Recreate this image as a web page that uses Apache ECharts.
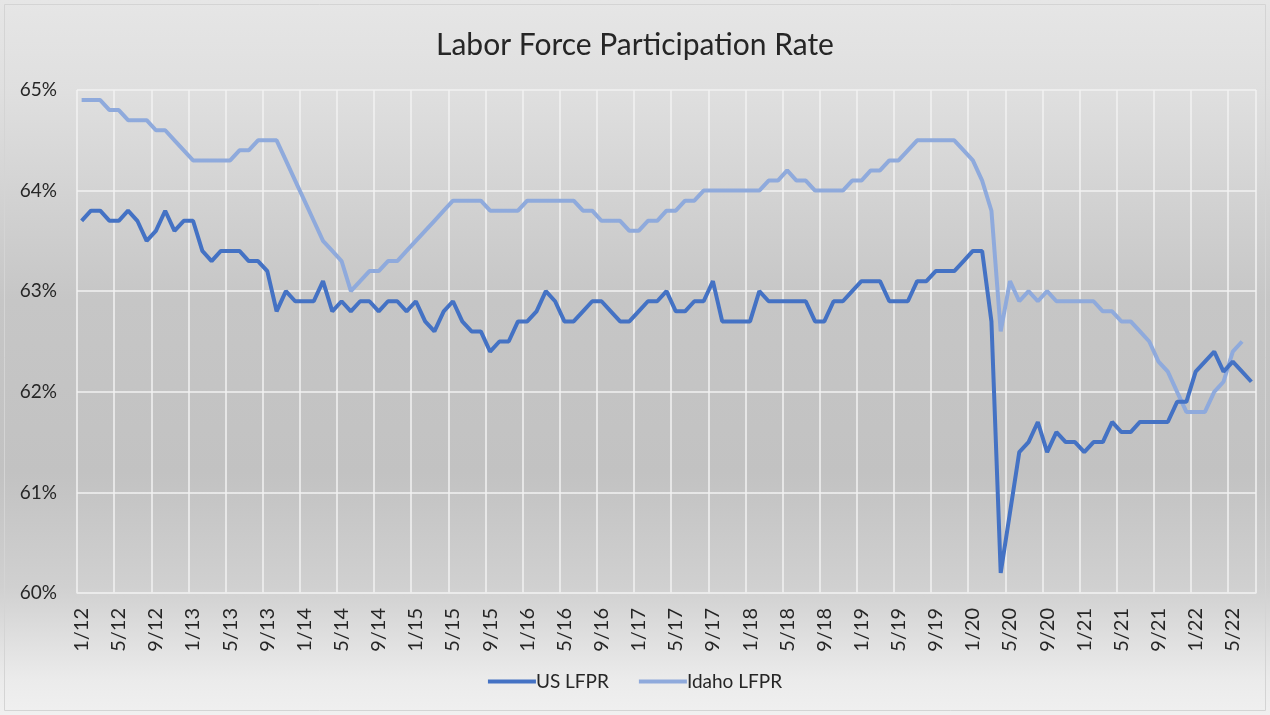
<!DOCTYPE html>
<html lang="en">
<head>
    <meta charset="UTF-8">
    <title>Labor Force Participation Rate</title>
    <script src="https://cdn.jsdelivr.net/npm/echarts@6/dist/echarts.min.js"></script>
    <style>
        body { margin: 0; }
    </style>
</head>
<body>
    <div id="main" style="width: 1270px;height:715px;"></div>
    <script type="text/javascript">
        // monthly labels, 1/12 through 7/22
        const months = [];
        for (let y = 12; y <= 22; y++) {
            for (let m = 1; m <= 12; m++) {
                if (y === 22 && m > 7) break;
                months.push(m + '/' + y);
            }
        }

        // percent values, one per month
        const usLfpr = [
            63.7, 63.8, 63.8, 63.7, 63.7, 63.8, 63.7, 63.5, 63.6, 63.8, 63.6, 63.7,
            63.7, 63.4, 63.3, 63.4, 63.4, 63.4, 63.3, 63.3, 63.2, 62.8, 63.0, 62.9,
            62.9, 62.9, 63.1, 62.8, 62.9, 62.8, 62.9, 62.9, 62.8, 62.9, 62.9, 62.8,
            62.9, 62.7, 62.6, 62.8, 62.9, 62.7, 62.6, 62.6, 62.4, 62.5, 62.5, 62.7,
            62.7, 62.8, 63.0, 62.9, 62.7, 62.7, 62.8, 62.9, 62.9, 62.8, 62.7, 62.7,
            62.8, 62.9, 62.9, 63.0, 62.8, 62.8, 62.9, 62.9, 63.1, 62.7, 62.7, 62.7,
            62.7, 63.0, 62.9, 62.9, 62.9, 62.9, 62.9, 62.7, 62.7, 62.9, 62.9, 63.0,
            63.1, 63.1, 63.1, 62.9, 62.9, 62.9, 63.1, 63.1, 63.2, 63.2, 63.2, 63.3,
            63.4, 63.4, 62.7, 60.2, 60.8, 61.4, 61.5, 61.7, 61.4, 61.6, 61.5, 61.5,
            61.4, 61.5, 61.5, 61.7, 61.6, 61.6, 61.7, 61.7, 61.7, 61.7, 61.9, 61.9,
            62.2, 62.3, 62.4, 62.2, 62.3, 62.2, 62.1
        ];

        const idahoLfpr = [
            64.9, 64.9, 64.9, 64.8, 64.8, 64.7, 64.7, 64.7, 64.6, 64.6, 64.5, 64.4,
            64.3, 64.3, 64.3, 64.3, 64.3, 64.4, 64.4, 64.5, 64.5, 64.5, 64.3, 64.1,
            63.9, 63.7, 63.5, 63.4, 63.3, 63.0, 63.1, 63.2, 63.2, 63.3, 63.3, 63.4,
            63.5, 63.6, 63.7, 63.8, 63.9, 63.9, 63.9, 63.9, 63.8, 63.8, 63.8, 63.8,
            63.9, 63.9, 63.9, 63.9, 63.9, 63.9, 63.8, 63.8, 63.7, 63.7, 63.7, 63.6,
            63.6, 63.7, 63.7, 63.8, 63.8, 63.9, 63.9, 64.0, 64.0, 64.0, 64.0, 64.0,
            64.0, 64.0, 64.1, 64.1, 64.2, 64.1, 64.1, 64.0, 64.0, 64.0, 64.0, 64.1,
            64.1, 64.2, 64.2, 64.3, 64.3, 64.4, 64.5, 64.5, 64.5, 64.5, 64.5, 64.4,
            64.3, 64.1, 63.8, 62.6, 63.1, 62.9, 63.0, 62.9, 63.0, 62.9, 62.9, 62.9,
            62.9, 62.9, 62.8, 62.8, 62.7, 62.7, 62.6, 62.5, 62.3, 62.2, 62.0, 61.8,
            61.8, 61.8, 62.0, 62.1, 62.4, 62.5
        ];

        const fontFamily = 'Lato, "Open Sans", sans-serif';

        let options = {
            backgroundColor: {
                type: 'linear', x: 0, y: 0, x2: 0, y2: 1,
                colorStops: [
                    { offset: 0, color: '#e6e6e6' },
                    { offset: 0.13, color: '#dfdfdf' },
                    { offset: 0.42, color: '#c6c6c6' },
                    { offset: 0.66, color: '#c2c2c2' },
                    { offset: 0.82, color: '#d0d0d0' },
                    { offset: 0.95, color: '#ebebeb' },
                    { offset: 1, color: '#f0f0f0' }
                ]
            },
            textStyle: { fontFamily: fontFamily },
            title: {
                text: 'Labor Force Participation Rate',
                left: 'center',
                top: 25,
                textStyle: { fontSize: 30, fontWeight: 'normal', color: '#262626', fontFamily: fontFamily }
            },
            legend: {
                bottom: 19,
                left: 'center',
                itemWidth: 48,
                itemHeight: 4,
                itemGap: 30,
                icon: 'rect',
                textStyle: { fontSize: 19, color: '#262626', padding: [0, 0, 0, -5] },
                data: ['US LFPR', 'Idaho LFPR']
            },
            grid: { left: 77, right: 14, top: 90, bottom: 122 },
            xAxis: {
                type: 'category',
                data: months,
                boundaryGap: true,
                axisLine: { lineStyle: { color: '#ececec', width: 1.5 } },
                axisTick: { interval: 3, length: 4, lineStyle: { color: '#ececec', width: 1.5 } },
                axisLabel: { interval: 3, rotate: 90, margin: 15, fontSize: 20, color: '#262626' },
                splitLine: { show: true, interval: 3, lineStyle: { color: '#f2f2f2', width: 1.5 } }
            },
            yAxis: {
                type: 'value',
                min: 60,
                max: 65,
                interval: 1,
                axisLine: { show: false },
                axisTick: { show: false },
                axisLabel: { formatter: '{value}%', margin: 20, fontSize: 19, color: '#262626' },
                splitLine: { lineStyle: { color: '#f2f2f2', width: 1.5 } }
            },
            series: [
                {
                    name: 'US LFPR',
                    type: 'line',
                    data: usLfpr,
                    showSymbol: false,
                    color: '#4472c4',
                    lineStyle: { width: 4, color: '#4472c4' },
                    z: 3
                },
                {
                    name: 'Idaho LFPR',
                    type: 'line',
                    data: idahoLfpr,
                    showSymbol: false,
                    color: '#8faadc',
                    lineStyle: { width: 4, color: '#8faadc' },
                    z: 2
                }
            ],
            graphic: [{
                type: 'rect',
                shape: { x: 4.5, y: 4.5, width: 1261, height: 706 },
                style: { fill: 'none', stroke: '#d4d4d4', lineWidth: 1 },
                silent: true
            }]
        };

        let myChart = echarts.init(document.getElementById('main'));
        myChart.setOption(options);
    </script>
</body>
</html>
